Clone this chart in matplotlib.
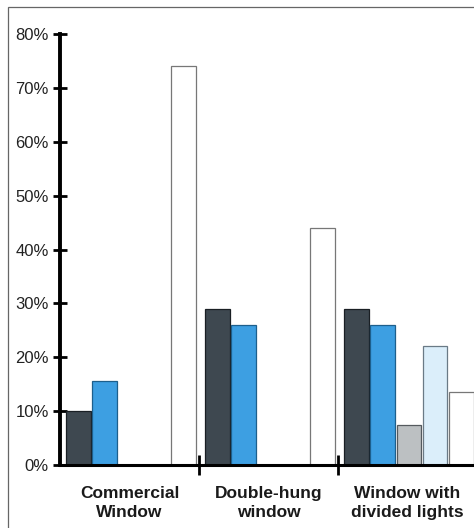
import matplotlib.pyplot as plt
import numpy as np
from matplotlib.patches import Rectangle

plt.rcParams['font.family'] = ['Liberation Sans', 'DejaVu Sans']

groups = ["Commercial\nWindow", "Double-hung\nwindow", "Window with\ndivided lights"]
dark = [10, 29, 29]
blue = [15.5, 26, 26]
gray = [0, 0, 7.5]
light = [0, 0, 22]
white = [74, 44, 13.5]

series = [dark, blue, gray, light, white]
fills = ["#3e4850", "#3d9fe2", "#bcc0c2", "#dbeefa", "#ffffff"]
edges = ["#1a1f24", "#1d5f8c", "#555a5e", "#6a7a86", "#777777"]

fig = plt.figure(figsize=(4.74, 5.28), dpi=100)
# scanned frame
fig.patches.append(Rectangle((8 / 474, -0.1), 1.2, 1 - 7 / 528 + 0.1, transform=fig.transFigure,
                             fill=False, edgecolor="#666666", linewidth=0.9))

ax = fig.add_axes([60 / 474, 1 - 465 / 528, 1 - 60 / 474, (465 - 34) / 528])
ax.set_facecolor("none")

x = np.arange(len(groups))
pitch = 0.1885
width = 0.176
for k, vals in enumerate(series):
    centers = x + 0.045 + width / 2 + k * pitch
    ax.bar(centers, vals, width=width, color=fills[k], edgecolor=edges[k],
           linewidth=0.9, zorder=2)

ax.set_ylim(0, 80)
ax.set_xlim(0, (474 - 60) / 139)
ax.set_yticks(range(0, 81, 10))
ax.set_yticklabels([f"{v}%" for v in range(0, 81, 10)], fontsize=12, color="#222222")
ax.tick_params(axis="y", direction="inout", length=10, width=2, pad=3)

ax.set_xticks([1, 2])
ax.set_xticklabels([])
ax.tick_params(axis="x", direction="inout", length=14, width=2)
for i, g in enumerate(groups):
    ax.text(i + 0.5, -3.9, g, ha="center", va="top", fontsize=12.5, fontweight="bold",
            color="#1a1a1a", linespacing=1.3, transform=ax.transData, clip_on=False)

for s in ["top", "right"]:
    ax.spines[s].set_visible(False)
ax.spines["left"].set_linewidth(2.8)
ax.spines["bottom"].set_linewidth(2.2)
ax.spines["left"].set_zorder(3)
ax.spines["bottom"].set_zorder(3)

fig.savefig("out.png", dpi=100)
